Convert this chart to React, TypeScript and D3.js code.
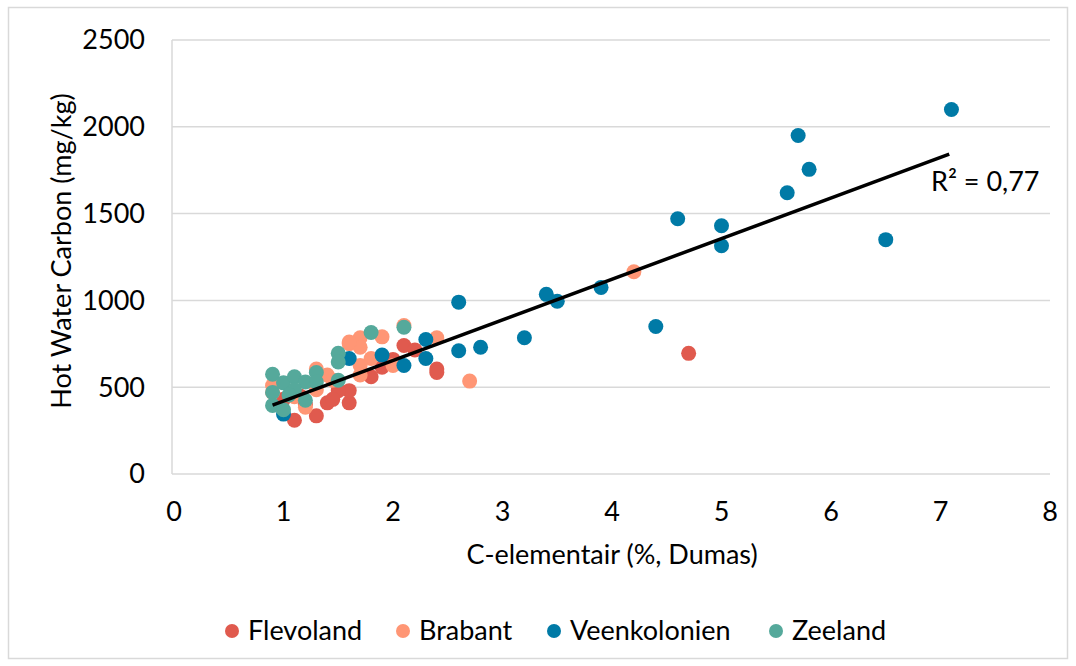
import React from "react";
import * as d3 from "d3";

const seriesNames = ["Flevoland", "Brabant", "Veenkolonien", "Zeeland"];
const seriesColors = ["#E05A4E", "#FF9675", "#007AA6", "#55A99B"];

const flevolandX = [1.1, 1.3, 1.4, 1.6, 1.6, 1.5, 1.8, 1.9, 2.0, 2.1, 2.2, 2.4, 2.4, 4.7, 1.0, 1.15, 1.2, 1.45];
const flevolandY = [310, 335, 410, 410, 480, 480, 560, 615, 660, 740, 715, 605, 585, 695, 430, 450, 400, 430];

const brabantX = [4.2, 2.7, 2.4, 2.1, 1.9, 1.7, 1.6, 1.7, 1.8, 1.7, 2.0, 1.7, 1.3, 1.4, 1.3, 0.9, 0.9, 1.2, 1.1, 1.45, 1.6];
const brabantY = [1165, 535, 785, 855, 790, 785, 750, 730, 665, 625, 625, 570, 605, 570, 485, 510, 470, 385, 445, 540, 760];

const veenX = [7.1, 5.7, 5.8, 5.6, 4.6, 5.0, 5.0, 6.5, 3.9, 3.4, 3.5, 2.6, 4.4, 3.2, 2.8, 2.6, 2.3, 2.3, 2.1, 1.9, 1.6, 1.0];
const veenY = [2100, 1950, 1755, 1620, 1470, 1430, 1315, 1350, 1075, 1035, 995, 990, 850, 785, 730, 710, 775, 665, 625, 685, 665, 345];

const zeelandX = [0.9, 0.9, 0.9, 1.0, 1.0, 1.1, 1.2, 1.2, 1.3, 1.3, 1.5, 1.5, 1.5, 1.8, 2.1, 1.1, 1.05];
const zeelandY = [575, 470, 395, 525, 370, 560, 530, 425, 585, 530, 695, 645, 540, 815, 845, 485, 455];

const xTicks = [0, 1, 2, 3, 4, 5, 6, 7, 8];
const yTicks = [0, 500, 1000, 1500, 2000, 2500];

const trendSlope = 234;
const trendIntercept = 186;
const trendRange = [0.9, 7.08];

const FONT = "Lato, 'Open Sans', sans-serif";
const FS = 27;

export default function App() {
  const W = 1076, H = 666;
  const x = d3.scaleLinear().domain([0, 8]).range([174, 1050]);
  const y = d3.scaleLinear().domain([0, 2500]).range([474, 40]);
  const xs = [flevolandX, brabantX, veenX, zeelandX];
  const ys = [flevolandY, brabantY, veenY, zeelandY];
  const line = d3.line<number>().x((d) => x(d)).y((d) => y(trendSlope * d + trendIntercept));
  const legendX = [232, 403, 554, 776];

  return (
    <svg width={W} height={H} style={{ position: "absolute", left: 0, top: 0, background: "#fff" }}>
      <rect x={8.5} y={7.5} width={1059} height={651} fill="#fff" stroke="#D9D9D9" strokeWidth={1.5} />
      {yTicks.map((t) => (
        <line key={"g" + t} x1={x(0) - 2} x2={x(8)} y1={y(t)} y2={y(t)} stroke="#D9D9D9" strokeWidth={1.5} />
      ))}
      <line x1={x(0) - 2} x2={x(0) - 2} y1={y(2500)} y2={y(0)} stroke="#D9D9D9" strokeWidth={1.5} />
      {yTicks.map((t) => (
        <text key={"yt" + t} x={145} y={y(t)} dy="0.35em" textAnchor="end" fontFamily={FONT} fontSize={FS} fill="#000">
          {t}
        </text>
      ))}
      {xTicks.map((t) => (
        <text key={"xt" + t} x={x(t)} y={521} textAnchor="middle" fontFamily={FONT} fontSize={FS} fill="#000">
          {t}
        </text>
      ))}
      <text x={x(4)} y={564} textAnchor="middle" fontFamily={FONT} fontSize={FS} fill="#000">
        C-elementair (%, Dumas)
      </text>
      <text transform={`translate(71,${(y(0) + y(2500)) / 2 - 6}) rotate(-90)`} textAnchor="middle" fontFamily={FONT} fontSize={FS} fill="#000">
        Hot Water Carbon (mg/kg)
      </text>
      {xs.map((arr, si) => (
        <g key={"s" + si}>
          {arr.map((v, i) => (
            <circle key={i} cx={x(v)} cy={y(ys[si][i])} r={7.5} fill={seriesColors[si]} />
          ))}
        </g>
      ))}
      <path d={line(trendRange) || ""} stroke="#000" strokeWidth={3.5} fill="none" />
      <text x={931} y={191} fontFamily={FONT} fontSize={FS} fill="#000">
        R² = 0,77
      </text>
      {seriesNames.map((n, i) => (
        <g key={n}>
          <circle cx={legendX[i]} cy={631} r={7} fill={seriesColors[i]} />
          <text x={legendX[i] + 16} y={631} dy="0.35em" fontFamily={FONT} fontSize={FS} fill="#000">
            {n}
          </text>
        </g>
      ))}
    </svg>
  );
}
